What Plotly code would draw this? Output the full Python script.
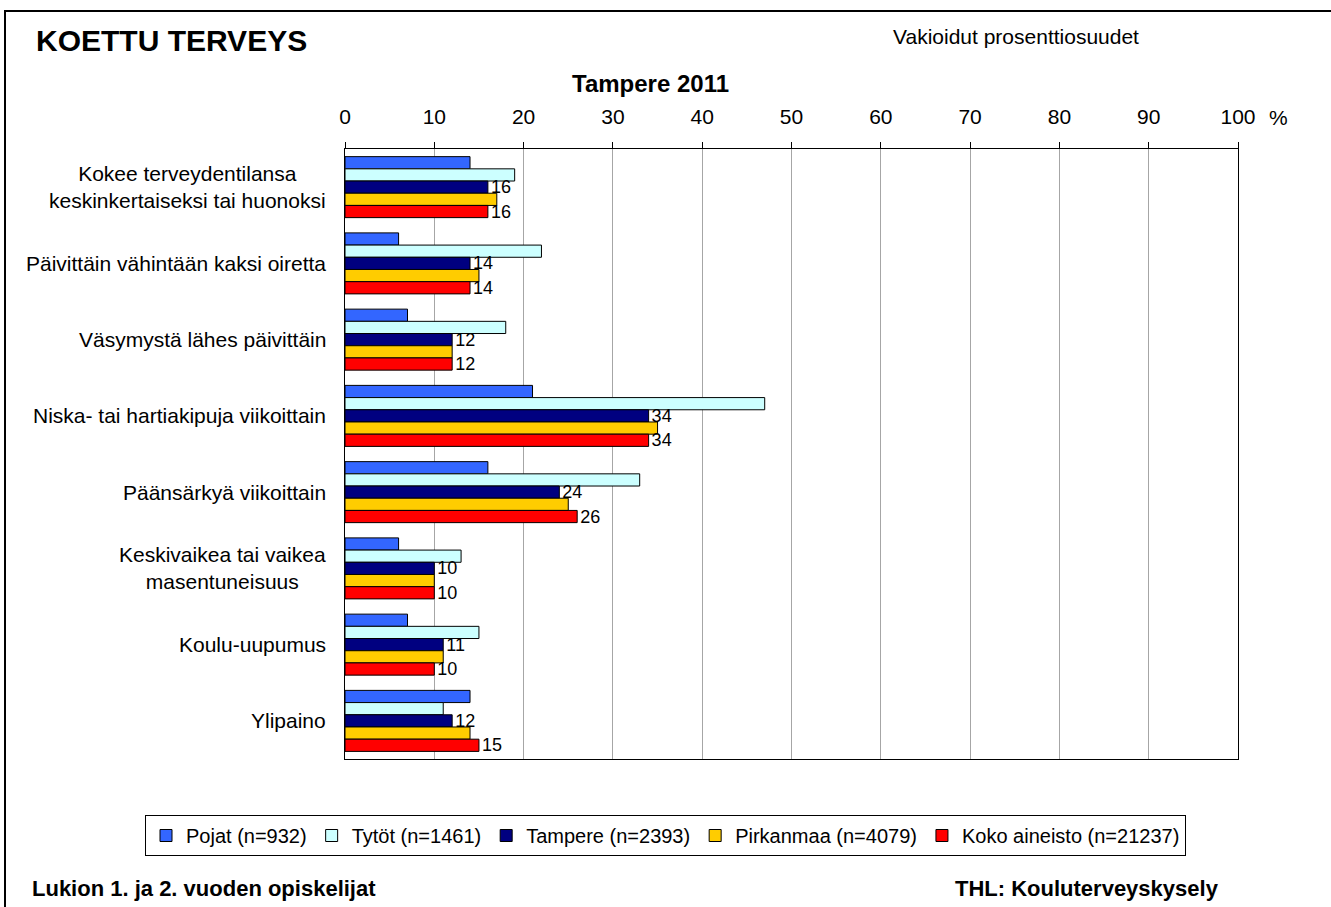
import plotly.graph_objects as go

# data (percent)
kategoriat = [
    "Kokee terveydentilansa<br>keskinkertaiseksi tai huonoksi",
    "Päivittäin vähintään kaksi oiretta",
    "Väsymystä lähes päivittäin",
    "Niska- tai hartiakipuja viikoittain",
    "Päänsärkyä viikoittain",
    "Keskivaikea tai vaikea<br>masentuneisuus",
    "Koulu-uupumus",
    "Ylipaino",
]
pojat = [14, 6, 7, 21, 16, 6, 7, 14]
tytot = [19, 22, 18, 47, 33, 13, 15, 11]
tampere = [16, 14, 12, 34, 24, 10, 11, 12]
pirkanmaa = [17, 15, 12, 35, 25, 10, 11, 14]
koko = [16, 14, 12, 34, 26, 10, 10, 15]

sarjat = ["Pojat (n=932)", "Tytöt (n=1461)", "Tampere (n=2393)",
          "Pirkanmaa (n=4079)", "Koko aineisto (n=21237)"]
x_ticks = list(range(0, 101, 10))

W, H = 1331, 907
L, R, T, B = 345, 93, 149, 148


# pixel -> paper helpers
def px(x):
    return (x - L) / (W - L - R)


def py(y):
    return (H - B - y) / (H - T - B)


fig = go.Figure()

varit = ["#3366FF", "#CCFFFF", "#000080", "#FFCC00", "#FF0000"]
arvot = [pojat, tytot, tampere, pirkanmaa, koko]
for i, (nimi, vals) in enumerate(zip(sarjat, arvot)):
    # only Tampere and Koko aineisto have value labels
    labels = [str(v) for v in vals] if i in (2, 4) else None
    fig.add_trace(go.Bar(
        y=kategoriat, x=vals, name=nimi, orientation="h",
        marker=dict(color=varit[i], line=dict(color="black", width=1)),
        text=labels, textposition="outside", constraintext="none",
        textfont=dict(family="Arial", size=18, color="black"),
        cliponaxis=False,
    ))

fig.update_layout(
    width=W, height=H,
    margin=dict(l=L, r=R, t=T, b=B),
    paper_bgcolor="white", plot_bgcolor="white",
    barmode="group", bargap=0.2, bargroupgap=0,
    font=dict(family="Arial", size=21, color="black"),
    legend=dict(
        orientation="h",
        x=px(145), xanchor="left", y=py(815), yanchor="top",
        bordercolor="black", borderwidth=1, bgcolor="white",
        font=dict(size=20), itemwidth=30, traceorder="normal",
    ),
)

fig.update_xaxes(
    side="top", range=[0, 100], tickvals=x_ticks,
    ticks="outside", ticklen=6, tickcolor="black", ticklabelstandoff=10,
    showline=True, linecolor="black", linewidth=1, mirror=True,
    showgrid=True, gridcolor="#A6A6A6", gridwidth=1,
    tickfont=dict(size=21), zeroline=False,
)
fig.update_yaxes(
    autorange="reversed", showticklabels=False,
    showline=True, linecolor="black", linewidth=1, mirror=True,
    showgrid=False,
)

# category labels, centred lines like the original
for k in kategoriat:
    fig.add_annotation(
        x=px(328), xref="paper", y=k, yref="y",
        text=k, showarrow=False, xanchor="right", align="center",
        font=dict(size=21),
    )

# titles and footers
fig.add_annotation(x=px(34), y=py(41), xref="paper", yref="paper",
                   text="<b>KOETTU TERVEYS</b>", showarrow=False,
                   xanchor="left", yanchor="middle", font=dict(size=30))
fig.add_annotation(x=px(891), y=py(36), xref="paper", yref="paper",
                   text="Vakioidut prosenttiosuudet", showarrow=False,
                   xanchor="left", yanchor="middle", font=dict(size=21))
fig.add_annotation(x=px(650), y=py(83), xref="paper", yref="paper",
                   text="<b>Tampere 2011</b>", showarrow=False,
                   xanchor="center", yanchor="middle", font=dict(size=24))
fig.add_annotation(x=px(1278), y=py(118), xref="paper", yref="paper",
                   text="%", showarrow=False,
                   xanchor="center", yanchor="middle", font=dict(size=21))
fig.add_annotation(x=px(30), y=py(888), xref="paper", yref="paper",
                   text="<b>Lukion 1. ja 2. vuoden opiskelijat</b>", showarrow=False,
                   xanchor="left", yanchor="middle", font=dict(size=22))
fig.add_annotation(x=px(953), y=py(888), xref="paper", yref="paper",
                   text="<b>THL: Kouluterveyskysely</b>", showarrow=False,
                   xanchor="left", yanchor="middle", font=dict(size=22))

# outer frame (only top and left visible in the picture)
fig.add_shape(type="rect", xref="paper", yref="paper",
              x0=px(5), x1=px(W + 20), y0=py(11), y1=py(H + 20),
              line=dict(color="black", width=2), layer="below")

# drop the default page margin so the figure sits at the window corner
fig.write_html("out.html", config={"displayModeBar": False},
               post_script="document.body.style.margin='0';")
